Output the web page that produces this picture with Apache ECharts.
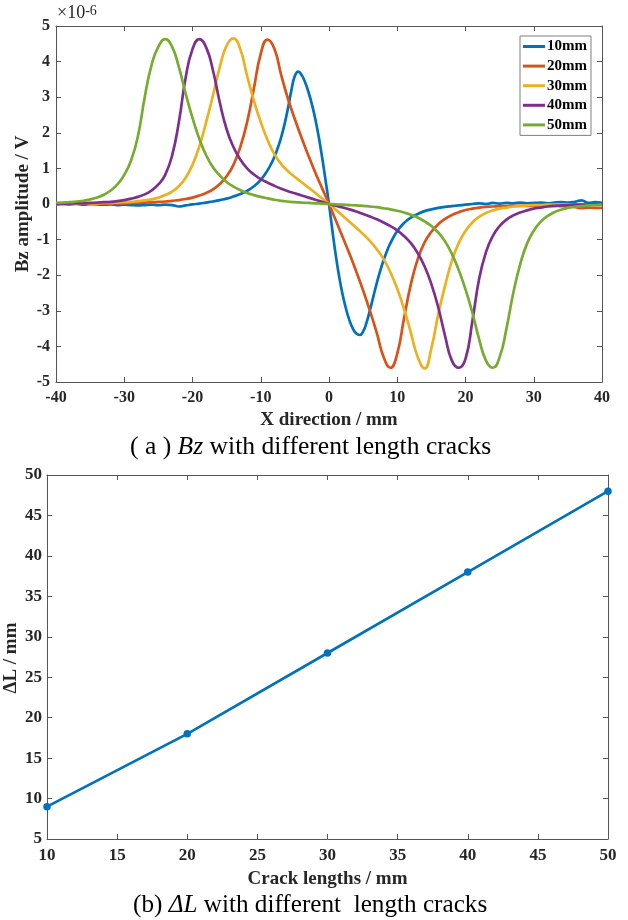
<!DOCTYPE html>
<html>
<head>
<meta charset="utf-8">
<script src="https://cdn.jsdelivr.net/npm/echarts@6/dist/echarts.min.js"></script>
<style>html,body{margin:0;padding:0;background:#fff;}#c{width:628px;height:920px;}</style>
</head>
<body>
<div id="c"></div>
<script>
// ---------- Data: chart (a) ----------
const xGrid = [-40,-39,-38,-37,-36,-35,-34,-33,-32,-31,-30,-29,-28,-27,-26,-25,-24,-23,-22,-21,-20,-19,-18,-17,-16,-15,-14,-13,-12,-11,-10,-9,-8,-7,-6,-5,-4,-3,-2,-1,0,1,2,3,4,5,6,7,8,9,10,11,12,13,14,15,16,17,18,19,20,21,22,23,24,25,26,27,28,29,30,31,32,33,34,35,36,37,38,39,40];
const x10 = [-40,-39,-38,-37,-36,-35,-34,-33,-32,-31,-30,-29,-28,-27,-26,-25,-24,-23,-22,-21,-20,-19,-18,-17,-16,-15,-14,-13,-12,-11,-10,-9,-8.5,-8,-7.5,-7,-6.5,-6,-5.5,-5,-4.5,-4,-3.5,-3,-2.5,-2,-1.5,-1,-0.5,0,0.5,1,1.5,2,2.5,3,3.5,4,4.5,5,5.5,6,6.5,7,7.5,8,8.5,9,10,11,12,13,14,15,16,17,18,19,20,21,22,23,24,25,26,27,28,29,30,31,32,33,34,35,36,37,38,39,40];
const y10 = [-0.02,0.0,-0.01,0.01,-0.02,0.0,-0.01,-0.02,-0.01,-0.03,-0.02,-0.03,-0.04,-0.03,-0.02,-0.03,-0.02,-0.03,-0.07,-0.04,-0.01,
  0.01,0.04,0.07,0.11,0.15,0.21,0.28,0.37,0.5,0.68,0.95,
  1.12,1.32,1.58,1.88,2.25,2.7,3.2,3.6,3.72,3.62,3.42,3.14,2.8,2.38,1.88,1.3,0.66,
  0,
  -0.75,-1.45,-2.05,-2.55,-2.95,-3.27,-3.5,-3.64,-3.68,-3.58,-3.33,-2.98,-2.6,-2.22,-1.88,-1.58,-1.32,
  -1.1,-0.76,-0.53,-0.38,-0.28,-0.2,-0.15,-0.11,-0.08,-0.06,-0.04,-0.02,
  0.0,0.02,0.0,0.03,0.01,0.03,0.02,0.04,0.02,0.03,0.04,0.02,0.04,0.05,0.04,0.06,0.1,0.03,0.05,0.03];
// the four below are on xGrid
const y20 = [0.0,0.0,0.01,0.0,0.01,0.0,0.01,0.01,0.01,0.02,
  0.02,0.03,0.03,0.04,0.05,0.06,0.07,0.09,0.11,0.14,
  0.18,0.24,0.31,0.41,0.56,0.78,1.1,1.6,2.3,3.25,
  4.22,4.62,4.36,3.62,2.95,2.38,1.85,1.35,0.88,0.44,
  0,
  -0.46,-0.93,-1.4,-1.9,-2.43,-3.0,-3.62,-4.3,-4.6,-4.2,
  -3.2,-2.25,-1.55,-1.08,-0.78,-0.57,-0.42,-0.31,-0.23,-0.17,
  -0.13,-0.1,-0.08,-0.07,-0.06,-0.06,-0.05,-0.05,-0.05,-0.05,
  -0.05,-0.05,-0.05,-0.06,-0.06,-0.08,-0.12,-0.1,-0.11,-0.11];
const y30 = [0.0,0.0,0.01,0.01,0.01,0.02,0.02,0.03,0.03,0.04,
  0.05,0.06,0.08,0.1,0.13,0.18,0.25,0.35,0.5,0.74,
  1.1,1.62,2.3,3.05,3.85,4.45,4.65,4.35,3.6,2.9,
  2.3,1.8,1.4,1.12,0.92,0.76,0.61,0.46,0.31,0.155,
  0,
  -0.16,-0.33,-0.5,-0.67,-0.85,-1.04,-1.27,-1.55,-1.92,-2.38,
  -2.95,-3.62,-4.3,-4.62,-4.05,-3.1,-2.3,-1.6,-1.1,-0.76,
  -0.52,-0.36,-0.25,-0.18,-0.13,-0.1,-0.07,-0.05,-0.04,-0.03,
  -0.03,-0.02,-0.02,-0.02,-0.01,-0.01,-0.01,-0.01,-0.01,-0.01];
const y40 = [0.01,0.01,0.01,0.02,0.02,0.03,0.04,0.05,0.06,0.08,
  0.11,0.15,0.2,0.27,0.38,0.55,0.82,1.35,2.3,3.55,
  4.35,4.63,4.4,3.75,2.85,2.1,1.6,1.25,1.0,0.83,
  0.7,0.6,0.51,0.43,0.36,0.3,0.24,0.18,0.12,0.06,
  0,
  -0.05,-0.1,-0.15,-0.21,-0.28,-0.35,-0.43,-0.52,-0.62,-0.74,
  -0.9,-1.1,-1.38,-1.75,-2.25,-2.9,-3.7,-4.4,-4.6,-4.35,
  -3.3,-2.1,-1.35,-0.9,-0.62,-0.44,-0.32,-0.24,-0.18,-0.13,
  -0.1,-0.07,-0.05,-0.04,-0.03,-0.02,-0.02,-0.01,-0.01,-0.01];
const y50 = [0.03,0.04,0.05,0.07,0.09,0.13,0.18,0.26,0.38,0.55,
  0.82,1.22,1.9,3.0,3.9,4.42,4.63,4.42,3.85,3.1,
  2.42,1.83,1.37,1.03,0.8,0.62,0.49,0.39,0.31,0.25,
  0.2,0.16,0.12,0.09,0.07,0.05,0.04,0.03,0.02,0.01,
  0,
  -0.01,-0.02,-0.03,-0.04,-0.05,-0.07,-0.09,-0.12,-0.15,-0.19,
  -0.24,-0.3,-0.38,-0.49,-0.62,-0.8,-1.05,-1.4,-1.85,-2.4,
  -3.05,-3.8,-4.4,-4.6,-4.3,-3.5,-2.5,-1.7,-1.12,-0.75,
  -0.5,-0.34,-0.23,-0.16,-0.11,-0.08,-0.06,-0.04,-0.03,-0.02];
const seriesNames = ['10mm','20mm','30mm','40mm','50mm'];
const seriesColors = ['#0072BD','#D95319','#EDB120','#7E2F8E','#77AC30'];

// ---------- Data: chart (b) ----------
const crackLengths = [10, 20, 30, 40, 50];
const deltaL = [9, 18, 28, 38, 48];

// ---------- Build ----------
const FONT = "'Liberation Serif','Times New Roman',serif";
const AX = '#555555';
const TXT = '#262626';
function pairs(xs, ys){ return xs.map((x,i)=>[x, ys[i]]); }
const topSeriesData = [pairs(x10,y10), pairs(xGrid,y20), pairs(xGrid,y30), pairs(xGrid,y40), pairs(xGrid,y50)];

function mainAxis(pos, fs, margin, extra){
  return Object.assign({
    type:'value', position: pos,
    axisLine:{show:true, onZero:false, lineStyle:{color:AX, width:1}},
    axisTick:{show:true, inside:true, length:5, lineStyle:{color:AX}},
    splitLine:{show:false},
    axisLabel:{color:TXT, fontFamily:FONT, fontWeight:'bold', fontSize:fs, margin:margin}
  }, extra);
}
function boxAxis(pos, extra){
  return Object.assign({
    type:'value', position: pos,
    axisLine:{show:true, onZero:false, lineStyle:{color:AX, width:1}},
    axisTick:{show:true, inside:true, length:5, lineStyle:{color:AX}},
    splitLine:{show:false},
    axisLabel:{show:false}
  }, extra);
}
function axisTitle(text, x, y, vertical){
  return {type:'text', x:x, y:y, rotation: vertical ? Math.PI/2 : 0, silent:true,
    style:{text:text, fill:TXT, font:"bold 19px 'Liberation Serif','Times New Roman',serif",
      align:'center', verticalAlign:'middle'}};
}

const option = {
  animation:false,
  backgroundColor:'#ffffff',
  title:[
    {text:'×10{s|-6}', left:57, top:4, padding:0,
     textStyle:{color:TXT, fontFamily:FONT, fontWeight:'normal', fontSize:18,
       rich:{s:{color:TXT, fontFamily:FONT, fontSize:14, verticalAlign:'top', lineHeight:14, padding:[0,0,9,0]}}}},
    {text:'( a ) {i|Bz} with different length cracks', left:130, top:434, padding:0,
     textStyle:{color:'#000', fontFamily:FONT, fontWeight:'normal', fontSize:25.6,
       rich:{i:{fontFamily:FONT, fontStyle:'italic', fontSize:25.6, color:'#000'}}}},
    {text:'(b) {i|ΔL} with different  length cracks', left:133, top:893, padding:0,
     textStyle:{color:'#000', fontFamily:FONT, fontWeight:'normal', fontSize:25.2,
       rich:{i:{fontFamily:FONT, fontStyle:'italic', fontSize:25.2, color:'#000'}}}}
  ],
  graphic:[
    axisTitle('X direction / mm', 329, 420, false),
    axisTitle('Bz amplitude / V', 23, 204, true),
    axisTitle('Crack lengths / mm', 327.5, 879, false),
    axisTitle('ΔL / mm', 11, 658, true)
  ],
  legend:{
    data:seriesNames, orient:'vertical', left:520, top:36,
    icon:'rect', itemWidth:22, itemHeight:3, itemGap:4.6,
    padding:[3,4,3,3], borderColor:'#7f7f7f', borderWidth:1, backgroundColor:'#fff',
    textStyle:{color:'#000', fontFamily:FONT, fontWeight:'bold', fontSize:15, padding:[0,0,0,-3]}
  },
  grid:[
    {left:56, top:26, width:546, height:356, outerBoundsMode:'none', containLabel:false},
    {left:47, top:475, width:561, height:364, outerBoundsMode:'none', containLabel:false}
  ],
  xAxis:[
    mainAxis('bottom', 16, 8, {gridIndex:0, min:-40, max:40, interval:10}),
    boxAxis('top',{gridIndex:0, min:-40, max:40, interval:10}),
    mainAxis('bottom', 17, 8, {gridIndex:1, min:10, max:50, interval:5}),
    boxAxis('top',{gridIndex:1, min:10, max:50, interval:5})
  ],
  yAxis:[
    mainAxis('left', 16, 6, {gridIndex:0, min:-5, max:5, interval:1}),
    boxAxis('right',{gridIndex:0, min:-5, max:5, interval:1}),
    mainAxis('left', 17, 5, {gridIndex:1, min:5, max:50, interval:5}),
    boxAxis('right',{gridIndex:1, min:5, max:50, interval:5})
  ],
  series: seriesNames.map((n,i)=>({
    name:n, type:'line', xAxisIndex:0, yAxisIndex:0,
    data: topSeriesData[i], showSymbol:false, smooth:0.5,
    lineStyle:{color:seriesColors[i], width:2.7}, itemStyle:{color:seriesColors[i]}
  })).concat([{
    name:'ΔL', type:'line', xAxisIndex:2, yAxisIndex:2,
    data: pairs(crackLengths, deltaL), symbol:'circle', symbolSize:7.5,
    lineStyle:{color:'#0072BD', width:2.7}, itemStyle:{color:'#0072BD'}
  }])
};
const chart = echarts.init(document.getElementById('c'), null, {renderer:'canvas'});
chart.setOption(option);
</script>
</body>
</html>
